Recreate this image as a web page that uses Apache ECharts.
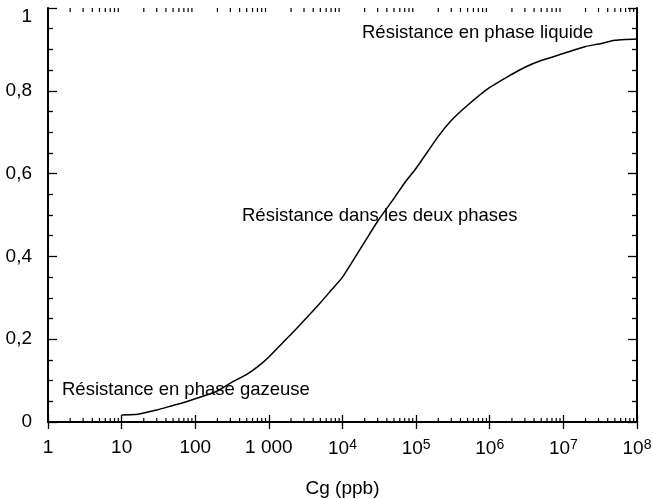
<!DOCTYPE html>
<html>
<head>
<meta charset="utf-8">
<script src="https://cdn.jsdelivr.net/npm/echarts@6/dist/echarts.min.js"></script>
<style>
html, body { margin: 0; padding: 0; background: #fff; }
#chart { width: 653px; height: 499px; }
</style>
</head>
<body>
<div id="chart"></div>
<script>
// concentration Cg (ppb) and fraction of resistance
const cgValues = [10, 15, 20, 30, 50, 70, 100, 200, 300, 500, 700, 1000, 2000, 3000, 5000, 7000,
  1e4, 2e4, 3e4, 5e4, 7e4, 1e5, 2e5, 3e5, 5e5, 1e6, 2e6, 3e6, 5e6, 1e7, 2e7, 3e7, 5e7, 7e7, 1e8];
const resistance = [0.017, 0.018, 0.022, 0.029, 0.040, 0.047, 0.056, 0.075, 0.094, 0.115, 0.133, 0.157,
  0.212, 0.245, 0.288, 0.318, 0.35, 0.435, 0.485, 0.54, 0.578, 0.613, 0.69, 0.728, 0.765, 0.808, 0.84, 0.857,
  0.873, 0.89, 0.907, 0.913, 0.922, 0.924, 0.925];

const xTickLabels = ['1', '10', '100', '1 000', '{b|10}{s|4}', '{b|10}{s|5}', '{b|10}{s|6}', '{b|10}{s|7}', '{b|10}{s|8}'];
const yTickLabels = { 0: '0', 0.2: '0,2', 0.4: '0,4', 0.6: '0,6', 0.8: '0,8', 1: '1' };

const annotations = [
  { text: 'Résistance en phase liquide', x: 362, y: 33 },
  { text: 'Résistance dans les deux phases', x: 242, y: 216 },
  { text: 'Résistance en phase gazeuse', x: 62, y: 390 }
];

// log minor ticks 2..9 in each decade
const minorTicks = [];
for (let d = 0; d < 8; d++) {
  for (let k = 2; k <= 9; k++) minorTicks.push(k * Math.pow(10, d));
}

const font = 'Liberation Sans, Arial, sans-serif';
const chart = echarts.init(document.getElementById('chart'));

const xBase = {
  type: 'log',
  logBase: 10,
  min: 1,
  max: 1e8,
  splitNumber: 8,
  axisLine: { lineStyle: { color: '#000', width: 2 } },
  axisTick: { inside: true, length: 7, lineStyle: { color: '#000', width: 1.3 } },
  splitLine: { show: false }
};
const yBase = {
  type: 'value',
  min: 0,
  max: 1,
  interval: 0.2,
  axisLine: { show: true, lineStyle: { color: '#000', width: 2 } },
  axisTick: { show: true, inside: true, length: 9, lineStyle: { color: '#000', width: 1.3 } },
  minorTick: { show: true, splitNumber: 4, length: 5, lineStyle: { color: '#000', width: 1.3 } },
  splitLine: { show: false }
};

chart.setOption({
  animation: false,
  backgroundColor: '#fff',
  textStyle: { fontFamily: font },
  grid: { left: 48, right: 16, top: 8, bottom: 77, containLabel: false, outerBoundsMode: 'none' },
  xAxis: [
    Object.assign({}, xBase, {
      position: 'bottom',
      name: 'Cg (ppb)',
      nameLocation: 'middle',
      nameGap: 57,
      nameTextStyle: { color: '#000', fontSize: 19, fontFamily: font },
      axisLabel: {
        color: '#000',
        fontSize: 19,
        fontFamily: font,
        margin: 16,
        formatter: function (v) {
          const i = Math.round(Math.log10(v));
          return xTickLabels[i];
        },
        rich: {
          b: { fontSize: 19, fontFamily: font, color: '#000', lineHeight: 21 },
          s: { fontSize: 14, fontFamily: font, color: '#000', verticalAlign: 'top', lineHeight: 21, padding: [0, 0, 6, 0] }
        }
      }
    }),
    Object.assign({}, xBase, { position: 'top', axisLabel: { show: false } })
  ],
  yAxis: [
    Object.assign({}, yBase, {
      position: 'left',
      axisLabel: {
        color: '#000',
        fontSize: 19,
        fontFamily: font,
        margin: 16,
        formatter: function (v) {
          const t = yTickLabels[Math.round(v * 10) / 10];
          return v === 1 ? '{one|' + t + '}' : t;
        },
        rich: { one: { fontSize: 19, fontFamily: font, color: '#000', padding: [18, 0, 0, 0] } }
      }
    }),
    Object.assign({}, yBase, { position: 'right', axisLabel: { show: false } })
  ],
  graphic: annotations.map(a => ({
    type: 'text',
    x: a.x,
    y: a.y,
    style: { text: a.text, fill: '#000', fontSize: 18.5, fontFamily: font, verticalAlign: 'middle' }
  })),
  series: [
    {
      type: 'line',
      data: cgValues.map((c, i) => [c, resistance[i]]),
      showSymbol: false,
      smooth: 0.2,
      lineStyle: { color: '#000', width: 1.5 }
    },
    {
      type: 'custom',
      data: minorTicks.map(v => [v, 0]),
      silent: true,
      renderItem: function (params, api) {
        const bottom = api.coord([api.value(0), 0]);
        const top = api.coord([api.value(0), 1]);
        return {
          type: 'group',
          children: [
            { type: 'line', shape: { x1: bottom[0], y1: bottom[1], x2: bottom[0], y2: bottom[1] - 4 }, style: { stroke: '#000', lineWidth: 1.2 } },
            { type: 'line', shape: { x1: top[0], y1: top[1], x2: top[0], y2: top[1] + 4 }, style: { stroke: '#000', lineWidth: 1.2 } }
          ]
        };
      }
    }
  ]
});
</script>
</body>
</html>
